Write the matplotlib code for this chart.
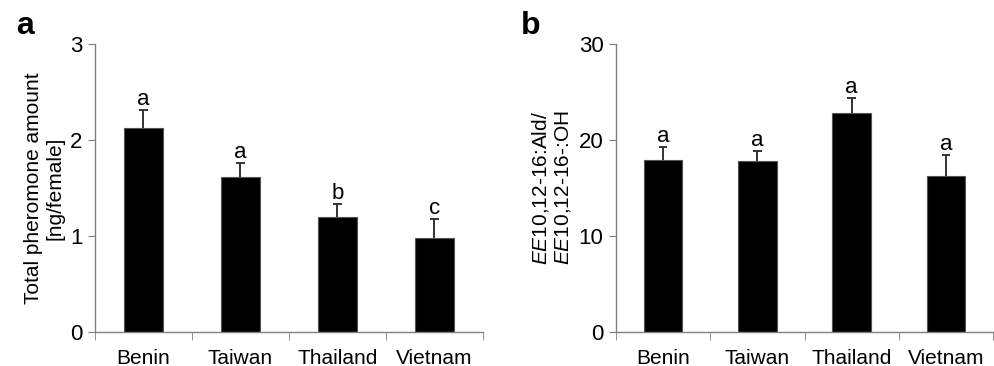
import matplotlib
matplotlib.use("Agg")
import matplotlib.pyplot as plt
import numpy as np

plt.rcParams['font.family'] = ['Liberation Sans', 'DejaVu Sans']
plt.rcParams['mathtext.fontset'] = 'custom'
plt.rcParams['mathtext.rm'] = 'Liberation Sans'
plt.rcParams['mathtext.it'] = 'Liberation Sans:italic'

categories = ["Benin", "Taiwan", "Thailand", "Vietnam"]
amount = [2.13, 1.61, 1.20, 0.98]
amount_err = [0.18, 0.15, 0.13, 0.20]
amount_letters = ["a", "a", "b", "c"]
ratio = [17.95, 17.85, 22.8, 16.2]
ratio_err = [1.35, 1.0, 1.6, 2.2]
ratio_letters = ["a", "a", "a", "a"]

W, H = 995, 366
fig = plt.figure(figsize=(W / 100, H / 100), dpi=100)

def make_ax(l, r, b, t):
    return fig.add_axes([l / W, 1 - b / H, (r - l) / W, (b - t) / H])

axa = make_ax(95, 483, 332, 44)
axb = make_ax(616, 993, 332, 44)

gray = '#808080'
FS = 15

def style(ax, vals, errs, letters, ymax, yticks, ylabel):
    x = np.arange(len(categories))
    vals = np.asarray(vals)
    errs = np.asarray(errs)
    ax.bar(x, vals, width=0.41, color='black', edgecolor='#555555', linewidth=0.8, zorder=2)
    ax.vlines(x, vals, vals + errs, color='#333333', linewidth=1.4, zorder=1)
    ax.hlines(vals + errs, x - 0.045, x + 0.045, color='#333333', linewidth=1.4, zorder=1)
    for xi, top, lt in zip(x, vals + errs, letters):
        ax.text(xi, top, lt, ha='center', va='bottom', fontsize=FS + 1)
    ax.set_xlim(-0.5, len(categories) - 0.5)
    ax.set_ylim(0, ymax)
    ax.set_yticks(yticks)
    ax.set_yticklabels([str(t) for t in yticks], fontsize=FS + 1)
    ax.set_xticks(x)
    ax.set_xticklabels(categories, fontsize=FS)
    ax.tick_params(axis='x', which='major', length=0, pad=12)
    ax.set_xticks(np.arange(-0.5, len(categories)), minor=True)
    ax.tick_params(axis='x', which='minor', length=6, color=gray, direction='out')
    ax.tick_params(axis='y', length=5, color=gray, direction='out', pad=4)
    for s in ['top', 'right']:
        ax.spines[s].set_visible(False)
    for s in ['left', 'bottom']:
        ax.spines[s].set_color(gray)
        ax.spines[s].set_linewidth(1.0)
    ax.set_ylabel(ylabel, fontsize=FS, linespacing=1.15)

style(axa, amount, amount_err, amount_letters, 3, [0, 1, 2, 3],
      "Total pheromone amount\n[ng/female]")
style(axb, ratio, ratio_err, ratio_letters, 30, [0, 10, 20, 30],
      r"$\mathit{EE}$10,12-16:Ald/" + "\n" + r"$\mathit{EE}$10,12-16-:OH")

fig.text(16 / W, 1 - 34 / H, "a", fontsize=23, fontweight='bold', va='baseline')
fig.text(521 / W, 1 - 34 / H, "b", fontsize=23, fontweight='bold', va='baseline')

fig.savefig("out.png", dpi=100)
